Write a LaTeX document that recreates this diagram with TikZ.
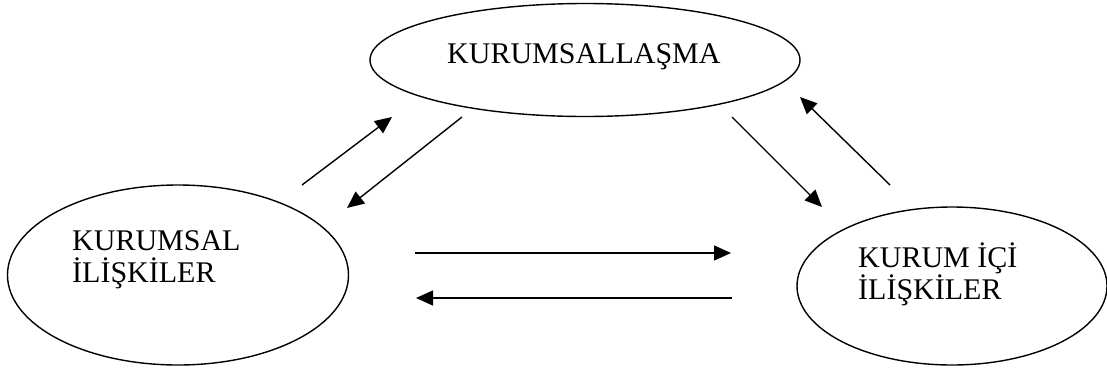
\documentclass[tikz,border=0pt]{standalone}
\usepackage{fontspec}
\setmainfont{Liberation Serif}
\usetikzlibrary{arrows.meta,shapes.geometric}
\begin{document}
\begin{tikzpicture}[x=1pt,y=-1pt,
  oval/.style={draw,ellipse,line width=1.4pt,inner sep=0pt},
  lbl/.style={anchor=base west,inner sep=0pt,font=\fontsize{30}{32}\selectfont,align=left},
  conn/.style={line width=1.4pt,-{Triangle[length=17pt,width=15pt]}}]
\useasboundingbox (0,0) rectangle (1107,370);
\node[oval,minimum width=430pt,minimum height=113pt] (top) at (585,60) {};
\node[oval,minimum width=341pt,minimum height=180pt] (left) at (178,275) {};
\node[oval,minimum width=310pt,minimum height=158pt] (right) at (952,286) {};
\node[lbl] (ttop) at (447,63) {KURUMSALLAŞMA};
\node[lbl] (tleft) at (72,282) {KURUMSAL\\İLİŞKİLER};
\node[lbl] (tright) at (858,299) {KURUM İÇİ\\İLİŞKİLER};
\coordinate (a1) at (302,185); \coordinate (a2) at (392,117);
\coordinate (b1) at (462,117); \coordinate (b2) at (347,208);
\coordinate (c1) at (732,117); \coordinate (c2) at (822,207);
\coordinate (d1) at (890,185); \coordinate (d2) at (800,97);
\coordinate (e1) at (415,253); \coordinate (e2) at (731,253);
\coordinate (f1) at (732,298); \coordinate (f2) at (416,298);
\draw[conn] (a1) -- (a2);
\draw[conn] (b1) -- (b2);
\draw[conn] (c1) -- (c2);
\draw[conn] (d1) -- (d2);
\draw[conn] (e1) -- (e2);
\draw[conn] (f1) -- (f2);
\end{tikzpicture}
\end{document}
